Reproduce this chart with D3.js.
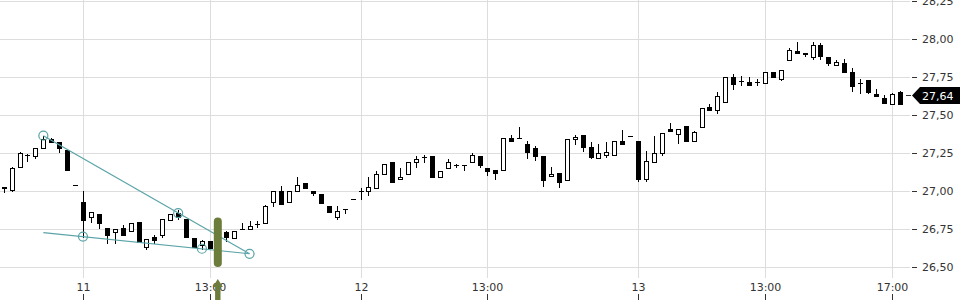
<!DOCTYPE html>
<html>
<head>
<meta charset="utf-8">
<script src="https://cdn.jsdelivr.net/npm/d3@7"></script>
<style>
  body { margin: 0; background: #fff; }
  svg { display: block; font-family: "DejaVu Sans", sans-serif; }
</style>
</head>
<body>
<svg id="chart" width="960" height="300"></svg>
<script>
// 15 minute candles, slot 0 = day "11" 9:00
var firstSlot = -10;

var open = [
  27.025, 27.007, 27.158, 27.235, 27.23, 27.283, 27.34, 27.32, 27.272, 27.04,
  26.928, 26.829, 26.85, 26.757, 26.73, 26.757, 26.737, 26.793, 26.63, 26.70,
  26.711, 26.807, 26.855, 26.816, 26.691, 26.648, 26.668, 26.625, 26.732, 26.688,
  26.75, 26.75, 26.78, 26.79, 26.928, 27.002, 26.928, 27.0, 27.05, 27.0,
  26.982, 26.90, 26.829, 26.88, 26.947, 27.0, 26.997, 27.02, 27.112, 27.19,
  27.079, 27.112, 27.19, 27.222, 27.232, 27.092, 27.151, 27.173, 27.17, 27.19,
  27.23, 27.153, 27.138, 27.138, 27.35, 27.35, 27.31, 27.285, 27.23, 27.099,
  27.118, 27.072, 27.342, 27.37, 27.29, 27.219, 27.237, 27.237, 27.326, 27.36,
  27.326, 27.079, 27.19, 27.25, 27.408, 27.375, 27.43, 27.33, 27.42, 27.553,
  27.53, 27.586, 27.75, 27.724, 27.72, 27.72, 27.71, 27.78, 27.737, 27.86,
  27.92, 27.91, 27.879, 27.962, 27.88, 27.83, 27.84, 27.783, 27.713, 27.73,
  27.638, 27.612, 27.572, 27.651
];
var high = [
  27.025, 27.155, 27.255, 27.243, 27.285, 27.36, 27.347, 27.322, 27.272, 27.04,
  27.0, 26.862, 26.85, 26.757, 26.75, 26.774, 26.79, 26.793, 26.687, 26.711,
  26.816, 26.846, 26.872, 26.816, 26.691, 26.678, 26.668, 26.72, 26.74, 26.737,
  26.79, 26.80, 26.80, 26.905, 27.002, 27.03, 27.0, 27.09, 27.05, 27.0,
  26.982, 26.90, 26.903, 26.88, 26.947, 27.02, 27.094, 27.129, 27.18, 27.19,
  27.151, 27.19, 27.232, 27.237, 27.232, 27.134, 27.212, 27.18, 27.17, 27.25,
  27.23, 27.153, 27.138, 27.349, 27.368, 27.42, 27.329, 27.296, 27.23, 27.158,
  27.118, 27.342, 27.37, 27.37, 27.323, 27.307, 27.323, 27.329, 27.40, 27.36,
  27.326, 27.26, 27.364, 27.382, 27.45, 27.408, 27.43, 27.396, 27.546, 27.57,
  27.65, 27.75, 27.77, 27.757, 27.75, 27.74, 27.78, 27.78, 27.797, 27.94,
  27.98, 27.91, 27.98, 27.975, 27.88, 27.86, 27.87, 27.81, 27.739, 27.73,
  27.668, 27.63, 27.645, 27.658
];
var low = [
  26.995, 27.0, 27.155, 27.2, 27.217, 27.28, 27.32, 27.257, 27.135, 27.04,
  26.70, 26.796, 26.757, 26.66, 26.66, 26.713, 26.737, 26.667, 26.62, 26.66,
  26.695, 26.807, 26.816, 26.697, 26.632, 26.62, 26.625, 26.62, 26.67, 26.688,
  26.75, 26.75, 26.765, 26.79, 26.899, 26.916, 26.928, 27.0, 27.02, 26.974,
  26.921, 26.862, 26.816, 26.855, 26.947, 26.947, 26.974, 27.02, 27.112, 27.059,
  27.079, 27.112, 27.158, 27.193, 27.09, 27.092, 27.151, 27.16, 27.14, 27.19,
  27.16, 27.105, 27.076, 27.138, 27.329, 27.35, 27.214, 27.204, 27.033, 27.099,
  27.026, 27.072, 27.307, 27.26, 27.219, 27.219, 27.226, 27.237, 27.309, 27.36,
  27.063, 27.063, 27.19, 27.24, 27.395, 27.316, 27.326, 27.33, 27.42, 27.53,
  27.516, 27.586, 27.67, 27.70, 27.698, 27.70, 27.71, 27.75, 27.73, 27.86,
  27.905, 27.89, 27.87, 27.87, 27.826, 27.83, 27.78, 27.655, 27.645, 27.645,
  27.625, 27.576, 27.572, 27.572
];
var close = [
  27.018, 27.151, 27.25, 27.234, 27.283, 27.344, 27.322, 27.28, 27.135, 27.04,
  26.807, 26.862, 26.79, 26.713, 26.75, 26.713, 26.79, 26.667, 26.687, 26.675,
  26.816, 26.846, 26.826, 26.697, 26.632, 26.668, 26.625, 26.72, 26.697, 26.737,
  26.75, 26.767, 26.78, 26.899, 27.002, 26.916, 27.0, 27.04, 27.02, 26.987,
  26.921, 26.862, 26.871, 26.88, 26.947, 27.0, 27.024, 27.112, 27.18, 27.059,
  27.094, 27.19, 27.213, 27.222, 27.09, 27.134, 27.188, 27.173, 27.17, 27.234,
  27.168, 27.132, 27.116, 27.349, 27.329, 27.35, 27.257, 27.228, 27.072, 27.112,
  27.059, 27.342, 27.357, 27.29, 27.226, 27.252, 27.257, 27.329, 27.309, 27.36,
  27.076, 27.2, 27.247, 27.382, 27.395, 27.408, 27.326, 27.388, 27.546, 27.53,
  27.625, 27.75, 27.706, 27.724, 27.698, 27.72, 27.78, 27.75, 27.797, 27.925,
  27.905, 27.90, 27.96, 27.888, 27.84, 27.85, 27.78, 27.69, 27.713, 27.65,
  27.625, 27.576, 27.638, 27.572
];

var priceTicks = [26.5, 26.75, 27, 27.25, 27.5, 27.75, 28, 28.25];
var timeTickSlots = [0, 16, 35, 51, 70, 86, 102];
var timeTickLabels = ['11', '13:00', '12', '13:00', '13', '13:00', '17:00'];

// drawn trend lines [slot, price]
var upperTrend = [[-5, 27.364], [21, 26.587]];
var lowerTrend = [[-5, 26.726], [21, 26.587]];
var trendPoints = [[-5, 27.364], [12, 26.855], [21, 26.587], [0, 26.70], [15, 26.62]];

var markerSlot = 17;
var markerRange = [26.5, 26.825];
var lastPrice = 27.64;

var TEAL = '#5aa3a7';
var OLIVE = '#6b7c3b';

var svg = d3.select('#chart');
var x = d3.scaleLinear().domain([0, 103]).range([83, 899.8]);
var y = d3.scaleLinear().domain([26.5, 28.25]).range([267, 1]);
var fmt = d3.formatLocale({decimal: ',', thousands: '.', grouping: [3], currency: ['', '']}).format('.2f');

var candles = open.map(function (o, k) {
  return {slot: firstSlot + k, o: o, h: high[k], l: low[k], c: close[k]};
});

// grid
var grid = svg.append('g');
grid.selectAll('line.h').data(priceTicks).enter().append('line')
    .attr('class', 'h')
    .attr('x1', 0).attr('x2', 910)
    .attr('y1', function (d) { return Math.round(y(d)) + 0.5; })
    .attr('y2', function (d) { return Math.round(y(d)) + 0.5; })
    .attr('stroke', '#dddddd');
grid.selectAll('line.v').data(timeTickSlots).enter().append('line')
    .attr('class', 'v')
    .attr('x1', function (d) { return Math.round(x(d)) + 0.5; })
    .attr('x2', function (d) { return Math.round(x(d)) + 0.5; })
    .attr('y1', 0).attr('y2', 278)
    .attr('stroke', '#dddddd');

// y axis on the right
var yAxis = svg.append('g')
    .attr('transform', 'translate(912,0)')
    .call(d3.axisRight(y).tickValues(priceTicks).tickSize(5).tickPadding(5).tickFormat(fmt));
yAxis.select('.domain').remove();
yAxis.selectAll('text').attr('font-size', 11).attr('font-family', '"DejaVu Sans", sans-serif').attr('fill', '#333');
yAxis.selectAll('line').attr('stroke', '#333');

// x axis labels
var xAxis = svg.append('g');
xAxis.selectAll('text').data(timeTickSlots).enter().append('text')
    .attr('x', function (d) { return Math.round(x(d)) + 0.5; })
    .attr('y', 291)
    .attr('text-anchor', 'middle')
    .attr('font-size', 11)
    .attr('fill', '#333')
    .text(function (d, i) { return timeTickLabels[i]; });
xAxis.selectAll('line').data(timeTickSlots).enter().append('line')
    .attr('x1', function (d) { return Math.round(x(d)) + 0.5; })
    .attr('x2', function (d) { return Math.round(x(d)) + 0.5; })
    .attr('y1', 294).attr('y2', 300)
    .attr('stroke', '#333');

// candles
var cg = svg.append('g');
candles.forEach(function (d) {
  var cx = Math.round(x(d.slot));
  var top = Math.round(y(Math.max(d.o, d.c)));
  var bot = Math.round(y(Math.min(d.o, d.c)));
  cg.append('line')
      .attr('x1', cx + 0.5).attr('x2', cx + 0.5)
      .attr('y1', Math.round(y(d.h))).attr('y2', Math.round(y(d.l)) + 1)
      .attr('stroke', '#000');
  if (bot - top < 1) {
    cg.append('rect')
        .attr('x', cx - 2).attr('y', top)
        .attr('width', 5).attr('height', 1)
        .attr('fill', '#000');
  } else if (d.c >= d.o) {
    cg.append('rect')
        .attr('x', cx - 1.5).attr('y', top + 0.5)
        .attr('width', 4).attr('height', bot - top)
        .attr('fill', '#fff').attr('stroke', '#000');
  } else {
    cg.append('rect')
        .attr('x', cx - 2).attr('y', top)
        .attr('width', 5).attr('height', bot - top + 1)
        .attr('fill', '#000');
  }
});

// trend lines
var tg = svg.append('g');
[upperTrend, lowerTrend].forEach(function (t) {
  tg.append('line')
      .attr('x1', x(t[0][0])).attr('y1', y(t[0][1]))
      .attr('x2', x(t[1][0])).attr('y2', y(t[1][1]))
      .attr('stroke', TEAL).attr('stroke-width', 1.2);
});
tg.selectAll('circle').data(trendPoints).enter().append('circle')
    .attr('cx', function (d) { return x(d[0]); })
    .attr('cy', function (d) { return y(d[1]); })
    .attr('r', 4.5)
    .attr('fill', 'none')
    .attr('stroke', TEAL)
    .attr('stroke-width', 1.2);

// event marker
var mx = x(markerSlot);
svg.append('rect')
    .attr('x', mx - 4).attr('y', y(markerRange[1]))
    .attr('width', 8).attr('height', y(markerRange[0]) - y(markerRange[1]))
    .attr('rx', 4)
    .attr('fill', OLIVE);
svg.append('path')
    .attr('d', 'M' + mx + ',279 L' + (mx + 5) + ',287 L' + (mx + 2.7) + ',287 L' + (mx + 2.7) + ',300 L' +
        (mx - 2.7) + ',300 L' + (mx - 2.7) + ',287 L' + (mx - 5) + ',287 Z')
    .attr('fill', OLIVE);

// last price label
var ly = Math.round(y(lastPrice)) + 1.5;
svg.append('line')
    .attr('x1', 906).attr('x2', 911).attr('y1', ly).attr('y2', ly)
    .attr('stroke', '#333');
svg.append('path')
    .attr('d', 'M912,' + ly + ' L920,' + (ly - 8.5) + ' L960,' + (ly - 8.5) + ' L960,' + (ly + 8.5) + ' L920,' + (ly + 8.5) + ' Z')
    .attr('fill', '#000');
svg.append('text')
    .attr('x', 922).attr('y', ly + 4)
    .attr('font-size', 11)
    .attr('fill', '#fff')
    .text(fmt(lastPrice));
</script>
</body>
</html>
